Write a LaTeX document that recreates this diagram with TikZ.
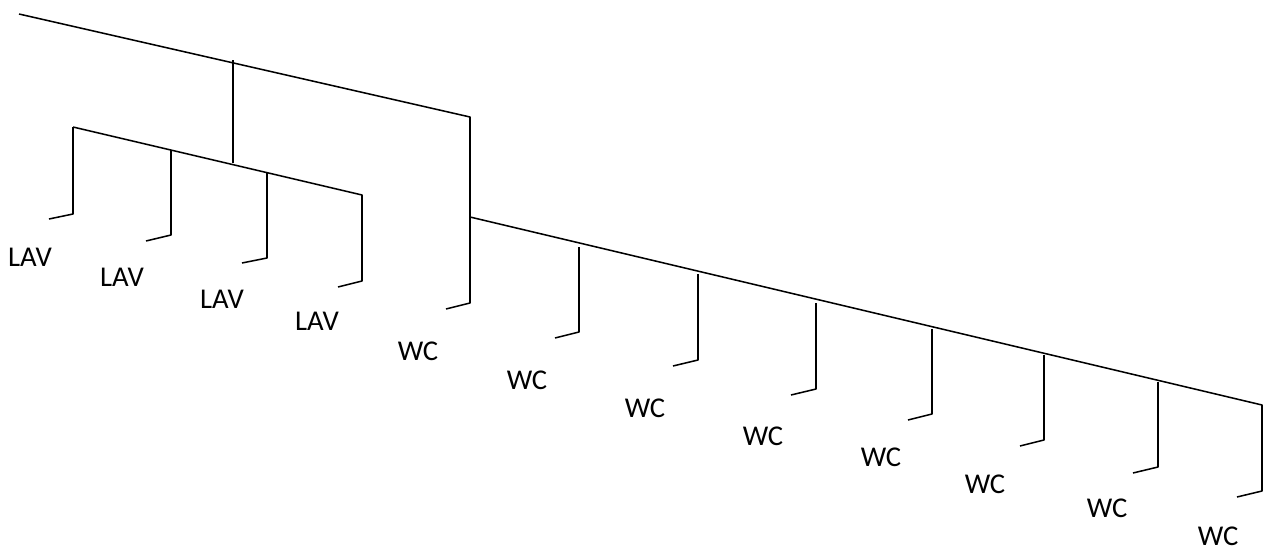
\documentclass[tikz,border=0pt]{standalone}
\usepackage{fontspec}
\setmainfont{Carlito}
\tikzset{pipe/.style={draw=black,line width=1.15pt,line join=round},lbl/.style={inner sep=0pt,font=\fontsize{21.5}{24}\selectfont,text=black}}
\begin{document}
\begin{tikzpicture}[x=0.75pt,y=-0.75pt]
\useasboundingbox (0,0) rectangle (1267,550);
\draw[pipe] (19,14)--(470,117)--(470,303)--(446,309);
\draw[pipe] (233,60)--(233,163);
\draw[pipe] (73,127)--(362,195)--(362,281)--(338,287);
\draw[pipe] (73,127)--(73,214)--(49,219);
\draw[pipe] (171,150)--(171,235)--(146,241);
\draw[pipe] (267,172)--(267,258)--(242,263);
\draw[pipe] (470,217)--(1262,405)--(1262,491)--(1237,497);
\draw[pipe] (579,247)--(579,332)--(555,338);
\draw[pipe] (698,274)--(698,360)--(673,366);
\draw[pipe] (816,303)--(816,389)--(791,395);
\draw[pipe] (932,329)--(932,414)--(908,420);
\draw[pipe] (1044,355)--(1044,440)--(1020,446);
\draw[pipe] (1158,382)--(1158,467)--(1133,473);
\node[lbl] (l1) at (30,257) {LAV};
\node[lbl] (l2) at (122,277) {LAV};
\node[lbl] (l3) at (222,299) {LAV};
\node[lbl] (l4) at (317,321) {LAV};
\node[lbl] (w1) at (418,351) {WC};
\node[lbl] (w2) at (527,380) {WC};
\node[lbl] (w3) at (645,408) {WC};
\node[lbl] (w4) at (763,436) {WC};
\node[lbl] (w5) at (881,457) {WC};
\node[lbl] (w6) at (985,484) {WC};
\node[lbl] (w7) at (1107,508) {WC};
\node[lbl] (w8) at (1218,536) {WC};
\end{tikzpicture}
\end{document}
